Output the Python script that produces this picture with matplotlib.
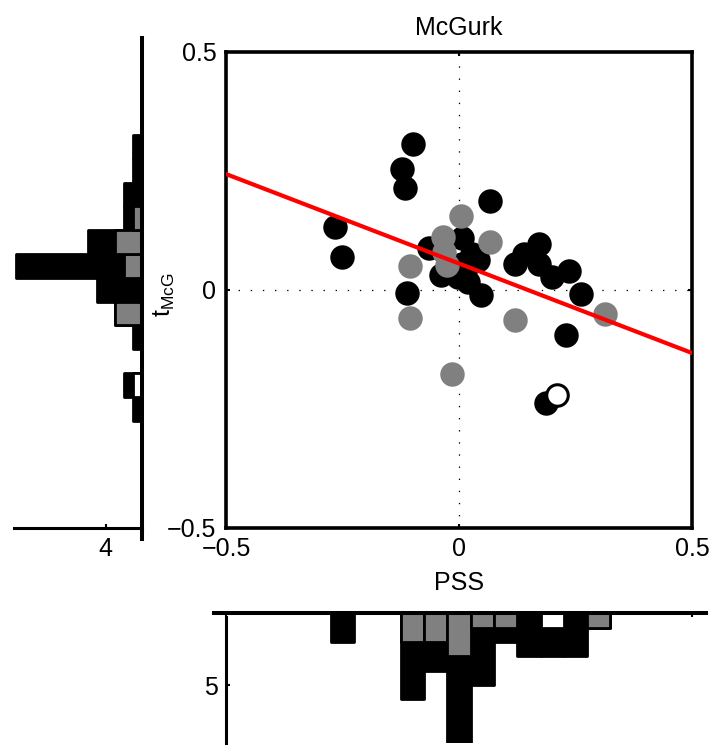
import numpy as np
import matplotlib
matplotlib.use('Agg')
import matplotlib.pyplot as plt

plt.rcParams['font.family'] = ['Liberation Sans', 'DejaVu Sans']
plt.rcParams['mathtext.default'] = 'regular'
plt.rcParams['font.size'] = 18

# ---- scatter: PSS (x) vs t_McG (y) ----
black_pss = [-0.098, -0.122, -0.116, -0.267, -0.252, -0.112, -0.065, 0.007,
             0.066, -0.039, 0.027, 0.040, -0.003, 0.020, 0.047, 0.007, 0.012,
             -0.010, 0.121, 0.140, 0.171, 0.171, 0.200, 0.235, 0.262, 0.229,
             0.186]
black_tmcg = [0.307, 0.254, 0.213, 0.132, 0.068, -0.006, 0.087, 0.108,
              0.187, 0.031, 0.075, 0.062, 0.027, 0.017, -0.012, 0.055, 0.040,
              0.045, 0.053, 0.074, 0.097, 0.054, 0.026, 0.040, -0.008, -0.095,
              -0.237]
gray_pss = [0.005, -0.034, -0.032, -0.025, 0.066, -0.105, -0.105, 0.121,
            -0.015, 0.314]
gray_tmcg = [0.155, 0.111, 0.080, 0.052, 0.100, 0.049, -0.059, -0.064,
             -0.177, -0.052]
white_pss = [0.211]
white_tmcg = [-0.222]

# regression line end points
fit_pss = [-0.5, 0.5]
fit_tmcg = [0.243, -0.133]

# ---- marginal histograms (bin centres and counts) ----
bins = [-0.25, -0.20, -0.15, -0.10, -0.05, 0.00, 0.05, 0.10, 0.15, 0.20, 0.25, 0.30]
tmcg_all = [1, 2, 0, 1, 3, 5, 14, 6, 2, 2, 1, 1]
tmcg_gray = [0, 1, 0, 0, 3, 0, 2, 3, 1, 0, 0, 0]
tmcg_white = [0, 1, 0, 0, 0, 0, 0, 0, 0, 0, 0, 0]
pss_all = [2, 0, 0, 6, 4, 9, 5, 2, 3, 3, 3, 1]
pss_gray = [0, 0, 0, 2, 2, 3, 1, 1, 0, 0, 0, 1]
pss_white = [0, 0, 0, 0, 0, 0, 0, 0, 0, 1, 0, 0]

GRAY = '#808080'
W, H = 716, 748
fig = plt.figure(figsize=(W / 100, H / 100), dpi=100)


def px_axes(l, t, r, b):
    return fig.add_axes([l / W, 1 - b / H, (r - l) / W, (b - t) / H])


# ---------------- main scatter ----------------
ax = px_axes(226, 51.7, 692, 527.7)
ax.axhline(0, color='k', lw=0.9, ls=(0, (1.1, 8.6)), zorder=1)
ax.axvline(0, color='k', lw=0.9, ls=(0, (1.1, 8.6)), zorder=1)
ax.scatter(black_pss, black_tmcg, s=310, c='k', lw=0, zorder=2)
ax.scatter(gray_pss, gray_tmcg, s=310, c=GRAY, lw=0, zorder=3)
ax.scatter(white_pss, white_tmcg, s=240, c='w', edgecolors='k', lw=2.2, zorder=4)
ax.plot(fit_pss, fit_tmcg, color='r', lw=3, zorder=5)
ax.set_xlim(-0.5, 0.5)
ax.set_ylim(-0.5, 0.5)
ax.set_xticks([-0.5, 0, 0.5])
ax.set_yticks([-0.5, 0, 0.5])
ax.set_xticklabels(['\u22120.5', '0', '0.5'])
ax.set_yticklabels(['\u22120.5', '0', '0.5'])
ax.tick_params(direction='in', length=3, width=1.5, top=True, right=True, pad=7)
for sp in ax.spines.values():
    sp.set_linewidth(2.6)
ax.set_title('McGurk', fontsize=18, pad=12)
ax.set_xlabel('PSS', labelpad=7)
ax.set_ylabel('$t_{McG}$')
ax.yaxis.set_label_coords(-0.09, 0.49)
ax.yaxis.label.set_x(-0.09)

# ---------------- left histogram (t_McG) ----------------
axl = px_axes(13.9, 51.7, 141.7, 527.7)
b = np.array(bins)
for counts, col, z in [(tmcg_all, 'k', 3), (tmcg_gray, GRAY, 4), (tmcg_white, 'w', 5)]:
    c = np.array(counts)
    m = c > 0
    axl.barh(b[m], c[m], height=0.05, color=col, edgecolor='k', lw=2,
             joinstyle='round', zorder=z)
axl.set_xlim(14.2, 0)
axl.set_ylim(-0.5, 0.5)
axl.plot([0, 0], [-0.524, 0.528], color='k', lw=2.9, clip_on=False, zorder=6)
for s in ['top', 'left', 'right']:
    axl.spines[s].set_visible(False)
axl.spines['bottom'].set_linewidth(2.2)
axl.set_yticks([])
axl.set_xticks([4])
axl.tick_params(axis='x', direction='in', length=3, width=1.5, pad=7)
axl.patch.set_alpha(0)

# ---------------- bottom histogram (PSS) ----------------
axb = px_axes(226, 613.3, 692, 742.5)
for counts, col, z in [(pss_all, 'k', 3), (pss_gray, GRAY, 4), (pss_white, 'w', 5)]:
    c = np.array(counts)
    m = c > 0
    axb.bar(b[m], c[m], width=0.05, color=col, edgecolor='k', lw=2,
            joinstyle='round', zorder=z)
axb.set_xlim(-0.5, 0.5)
axb.set_ylim(9, 0)
axb.plot([-0.526, 0.529], [0, 0], color='k', lw=2.9, clip_on=False, zorder=6)
axb.plot([-0.5, -0.5], [0.24, 9.03], color='k', lw=2.2, clip_on=False, zorder=6)
for sp in axb.spines.values():
    sp.set_visible(False)
axb.xaxis.tick_top()
axb.set_xticks([-0.5, 0, 0.5])
axb.set_xticklabels([])
axb.set_yticks([5])
axb.tick_params(direction='in', length=3, width=1.5, pad=6)
axb.patch.set_alpha(0)

# ylabel sits a little further left, next to the left histogram
ax.yaxis.set_label_coords(-0.105, 0.49)

fig.savefig('out.png', dpi=100)
